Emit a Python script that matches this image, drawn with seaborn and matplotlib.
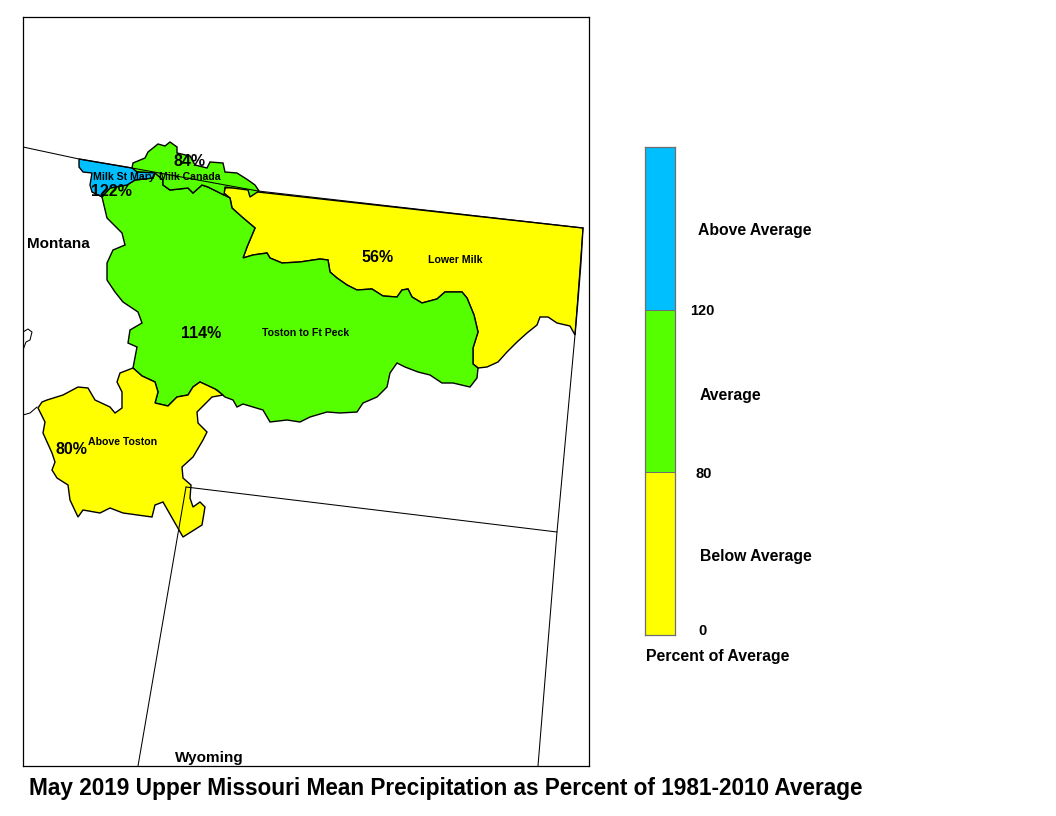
import numpy as np
import pandas as pd
import matplotlib
matplotlib.use("Agg")
import matplotlib.pyplot as plt
from matplotlib.colors import ListedColormap
import seaborn as sns

# basin outlines (x, y in map units, y pointing down)
lower_milk = [(225,188),(240,187),(250,190),(258,192),(583,228),(581,262),(578,300),(575,335),(570,326),(557,323),
    (548,317),(540,317),(537,325),(527,333),(517,342),(507,352),(498,362),(487,367),(478,368),(473,364),(473,348),
    (478,332),(474,315),(467,298),(462,292),(445,292),(437,299),(422,303),(412,297),(408,289),(402,290),(397,297),
    (383,296),(372,289),(357,290),(347,285),(337,278),(330,272),(328,260),(320,259),(300,262),(282,263),(270,258),
    (267,253),(253,255),(243,258),(247,247),(255,228),(242,217),(232,208),(230,198),(224,193)]
toston_ft_peck = [(102,197),(110,188),(127,185),(135,180),(153,178),(155,173),(163,180),(163,185),(170,190),(188,188),
    (193,193),(202,185),(208,187),(224,195),(230,198),(232,208),(242,217),(255,228),(247,247),(243,258),(253,255),
    (267,253),(270,258),(282,263),(300,262),(320,259),(328,260),(330,272),(337,278),(347,285),(357,290),(372,289),
    (383,296),(397,297),(402,290),(408,289),(412,297),(422,303),(437,299),(445,292),(462,292),(467,298),(474,315),
    (478,332),(473,348),(473,364),(478,368),(477,378),(470,387),(453,383),(442,383),(430,375),(418,372),(405,367),
    (397,363),(390,373),(387,387),(377,397),(363,403),(357,412),(340,413),(327,412),(310,417),(300,422),(287,420),
    (270,422),(263,410),(243,404),(237,407),(233,400),(225,397),(217,390),(200,382),(193,387),(188,395),(177,397),
    (168,406),(155,403),(158,392),(155,382),(142,376),(133,368),(137,347),(128,343),(130,330),(142,323),(138,312),
    (123,302),(115,292),(107,280),(107,263),(113,250),(125,245),(122,233),(107,218)]
milk_canada = [(133,163),(145,158),(148,152),(158,144),(165,146),(170,142),(177,147),(177,153),(190,156),(195,165),
    (207,168),(210,162),(223,163),(225,172),(237,173),(248,180),(255,185),(259,191),(250,197),(248,190),(225,187),
    (224,195),(208,187),(202,185),(193,193),(188,188),(170,190),(163,185),(163,180),(155,173),(137,172),(132,168)]
milk_st_mary = [(79,159),(132,168),(137,172),(155,173),(153,178),(135,180),(127,185),(110,188),(102,197),(92,192),
    (90,185),(92,173),(83,172),(79,167)]
above_toston = [(133,368),(120,373),(117,382),(122,392),(122,408),(115,413),(110,407),(95,400),(88,388),(78,387),
    (63,395),(47,400),(42,402),(38,408),(45,422),(43,433),(52,453),(55,462),(52,470),(57,478),(68,485),(70,500),
    (78,517),(83,510),(100,513),(110,508),(123,513),(152,517),(155,505),(163,502),(175,523),(183,537),(202,525),
    (205,507),(200,502),(193,507),(190,498),(191,485),(183,478),(182,467),(193,457),(203,440),(207,432),(198,423),
    (197,412),(212,397),(223,395),(215,389),(200,382),(193,387),(188,395),(177,397),(168,406),(155,403),(158,392),
    (155,382),(142,376),(133,368)]

# state lines
north_border = [(23,147),(79,159),(132,168),(258,191),(583,228)]
east_line = [(583,228),(575,335),(557,532),(538,766)]
wy_north = [(186,487),(557,532)]
wy_west = [(186,487),(138,766)]
idaho_bit = [(23,415),(30,413),(37,407)]
idaho_bit2 = [(23,350),(26,342),(30,340),(32,332),(28,329),(23,332)]
state_lines = [north_border, east_line, wy_north, wy_west, idaho_bit, idaho_bit2]

basins = [lower_milk, toston_ft_peck, milk_canada, milk_st_mary, above_toston]
basin_colors = ["#FFFF00", "#55FF00", "#55FF00", "#00BFFF", "#FFFF00"]

basin_names = ["Lower Milk", "Toston to Ft Peck", "Milk Canada", "Milk St Mary", "Above Toston"]
name_xy = [(455,260), (306,333), (190,177), (124,177), (123,442)]
percents = ["56%", "114%", "84%", "122%", "80%"]
percent_xy = [(378,258), (201,333), (190,162), (111,192), (71,449)]

state_names = ["Montana", "Wyoming"]
state_xy = [(58,244), (209,758)]

legend_classes = [2, 1, 0]
legend_colors = ["#FFFF00", "#55FF00", "#00BFFF"]
legend_names = ["Above Average", "Average", "Below Average"]
legend_name_xy = [(698,230), (700,395), (700,556)]
legend_breaks = ["120", "80", "0"]
legend_break_xy = [(690,311), (695,474), (698,631)]

W, H = 1056, 816
sns.set_style("white")
plt.rcParams["font.family"] = ["Liberation Sans", "DejaVu Sans"]
plt.rcParams["font.weight"] = "bold"
plt.rcParams["text.color"] = "black"

fig = plt.figure(figsize=(W / 100, H / 100), dpi=100)


def px_axes(x0, y0, x1, y1):
    return fig.add_axes([x0 / W, 1 - y1 / H, (x1 - x0) / W, (y1 - y0) / H])


def px_text(x, y, s, **kw):
    fig.text(x / W, 1 - y / H, s, va="center", **kw)


ax = px_axes(23, 17, 589, 766)
ax.set_xlim(23, 589)
ax.set_ylim(766, 17)
ax.set_xticks([])
ax.set_yticks([])
for sp in ax.spines.values():
    sp.set_color("black")
    sp.set_linewidth(0.9)

for poly, col in zip(basins, basin_colors):
    xs, ys = zip(*poly)
    ax.fill(xs, ys, facecolor=col, edgecolor="black", linewidth=1.0, zorder=2)

for line in state_lines:
    df = pd.DataFrame(line, columns=["x", "y"])
    sns.lineplot(data=df, x="x", y="y", sort=False, estimator=None, color="black", linewidth=0.75, ax=ax, zorder=3)
ax.set_xlabel("")
ax.set_ylabel("")

for name, (x, y) in zip(basin_names, name_xy):
    ax.text(x, y, name, fontsize=7.6, ha="center", va="center", zorder=4)
for pct, (x, y) in zip(percents, percent_xy):
    ax.text(x, y, pct, fontsize=11.5, ha="center", va="center", zorder=4)
for name, (x, y) in zip(state_names, state_xy):
    ax.text(x, y, name, fontsize=11, ha="center", va="center", zorder=4)

# legend bar
cax = px_axes(645, 147, 675, 635)
sns.heatmap(np.array(legend_classes).reshape(-1, 1), cmap=ListedColormap(legend_colors), vmin=0, vmax=2,
            cbar=False, xticklabels=False, yticklabels=False, linewidths=0.6, linecolor="#6e6e6e", ax=cax)
for sp in cax.spines.values():
    sp.set_visible(True)
    sp.set_color("#6e6e6e")
    sp.set_linewidth(0.9)

for name, (x, y) in zip(legend_names, legend_name_xy):
    px_text(x, y, name, fontsize=11.3)
for b, (x, y) in zip(legend_breaks, legend_break_xy):
    px_text(x, y, b, fontsize=10.5)
px_text(646, 657, "Percent of Average", fontsize=11.4)
px_text(29, 788, "May 2019 Upper Missouri Mean Precipitation as Percent of 1981-2010 Average", fontsize=16.3)

fig.savefig("out.png", dpi=100)
